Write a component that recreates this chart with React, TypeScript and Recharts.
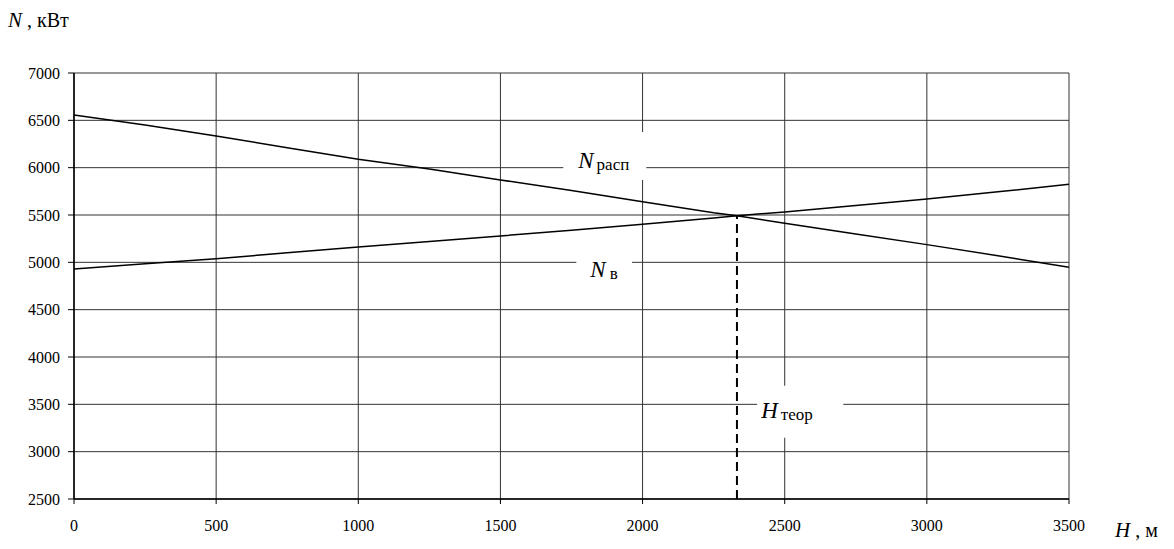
import React from "react";
import {
  LineChart,
  Line,
  XAxis,
  YAxis,
  CartesianGrid,
  ReferenceLine,
  ReferenceArea,
} from "recharts";

const heights = [0, 250, 500, 750, 1000, 1250, 1500, 1750, 2000, 2250, 2332, 2500, 2750, 3000, 3250, 3500];
const nRasp = [6556, 6450, 6335, 6210, 6089, 5985, 5870, 5760, 5641, 5525, 5493, 5413, 5300, 5187, 5070, 4948];
const nV = [4930, 4985, 5039, 5100, 5162, 5220, 5279, 5340, 5402, 5468, 5493, 5532, 5600, 5669, 5745, 5825];

const xTicks = [0, 500, 1000, 1500, 2000, 2500, 3000, 3500];
const yTicks = [2500, 3000, 3500, 4000, 4500, 5000, 5500, 6000, 6500, 7000];

const hTheor = 2332;
const nTheor = 5493;

const data = heights.map((h, i) => ({ h, rasp: nRasp[i], v: nV[i] }));

const FONT = "Liberation Serif, Times New Roman, serif";

type LabelSpec = { main: string; sub: string; dx: number; dy: number; gap: number };

const makeLabel = (spec: LabelSpec) => (props: any) => {
  const vb = props.viewBox || {};
  return (
    <text
      x={vb.x + spec.dx}
      y={vb.y + spec.dy}
      style={{ fontFamily: FONT }}
      fill="#000"
    >
      <tspan fontStyle="italic" fontSize={23}>{spec.main}</tspan>
      <tspan fontSize={17} dx={spec.gap} dy={2}>{spec.sub}</tspan>
    </text>
  );
};

const yTitle = () => (
  <text x={8} y={27} style={{ fontFamily: FONT }} fill="#000">
    <tspan fontStyle="italic" fontSize={21}>N</tspan>
    <tspan fontSize={20}>{" , кВт"}</tspan>
  </text>
);

const xTitle = () => (
  <text x={1115} y={537} style={{ fontFamily: FONT }} fill="#000">
    <tspan fontStyle="italic" fontSize={21}>H</tspan>
    <tspan fontSize={20}>{" , м"}</tspan>
  </text>
);

export default function App() {
  return (
    <div style={{ position: "absolute", left: 0, top: 0, width: 1174, height: 549, background: "#fff", fontFamily: FONT }}>
      <LineChart
        width={1174}
        height={549}
        data={data}
        margin={{ top: 73, right: 105, bottom: 0, left: 0 }}
        style={{ fontFamily: FONT }}
      >
        <CartesianGrid stroke="#333" strokeWidth={1} />
        <XAxis
          dataKey="h"
          type="number"
          domain={[0, 3500]}
          ticks={xTicks}
          height={50}
          tickSize={5}
          tickMargin={16}
          axisLine={{ stroke: "#000", strokeWidth: 1.5 }}
          tickLine={{ stroke: "#000" }}
          tick={{ fill: "#000", fontSize: 16, fontFamily: FONT }}
          label={xTitle}
        />
        <YAxis
          type="number"
          domain={[2500, 7000]}
          ticks={yTicks}
          width={74}
          tickSize={6}
          tickMargin={8}
          axisLine={{ stroke: "#000", strokeWidth: 1.5 }}
          tickLine={{ stroke: "#000" }}
          tick={{ fill: "#000", fontSize: 16, fontFamily: FONT }}
          label={yTitle}
        />
        <ReferenceArea
          x1={1721}
          x2={2013}
          y1={5870}
          y2={6377}
          fill="#fff"
          fillOpacity={1}
          stroke="none"
          label={makeLabel({ main: "N", sub: "расп", dx: 15, dy: 36, gap: 3 })}
        />
        <ReferenceArea
          x1={1767}
          x2={1963}
          y1={4719}
          y2={5226}
          fill="#fff"
          fillOpacity={1}
          stroke="none"
          label={makeLabel({ main: "N", sub: "в", dx: 14, dy: 36, gap: 4 })}
        />
        <ReferenceArea
          x1={2403}
          x2={2706}
          y1={3146}
          y2={3695}
          fill="#fff"
          fillOpacity={1}
          stroke="none"
          label={makeLabel({ main: "H", sub: "теор", dx: 4, dy: 32, gap: 3 })}
        />
        <ReferenceLine
          segment={[{ x: hTheor, y: 2500 }, { x: hTheor, y: nTheor }]}
          stroke="#000"
          strokeWidth={2}
          strokeDasharray="9 5"
        />
        <Line
          type="linear"
          dataKey="rasp"
          stroke="#000"
          strokeWidth={1.5}
          dot={false}
          isAnimationActive={false}
        />
        <Line
          type="linear"
          dataKey="v"
          stroke="#000"
          strokeWidth={1.5}
          dot={false}
          isAnimationActive={false}
        />
      </LineChart>
    </div>
  );
}
